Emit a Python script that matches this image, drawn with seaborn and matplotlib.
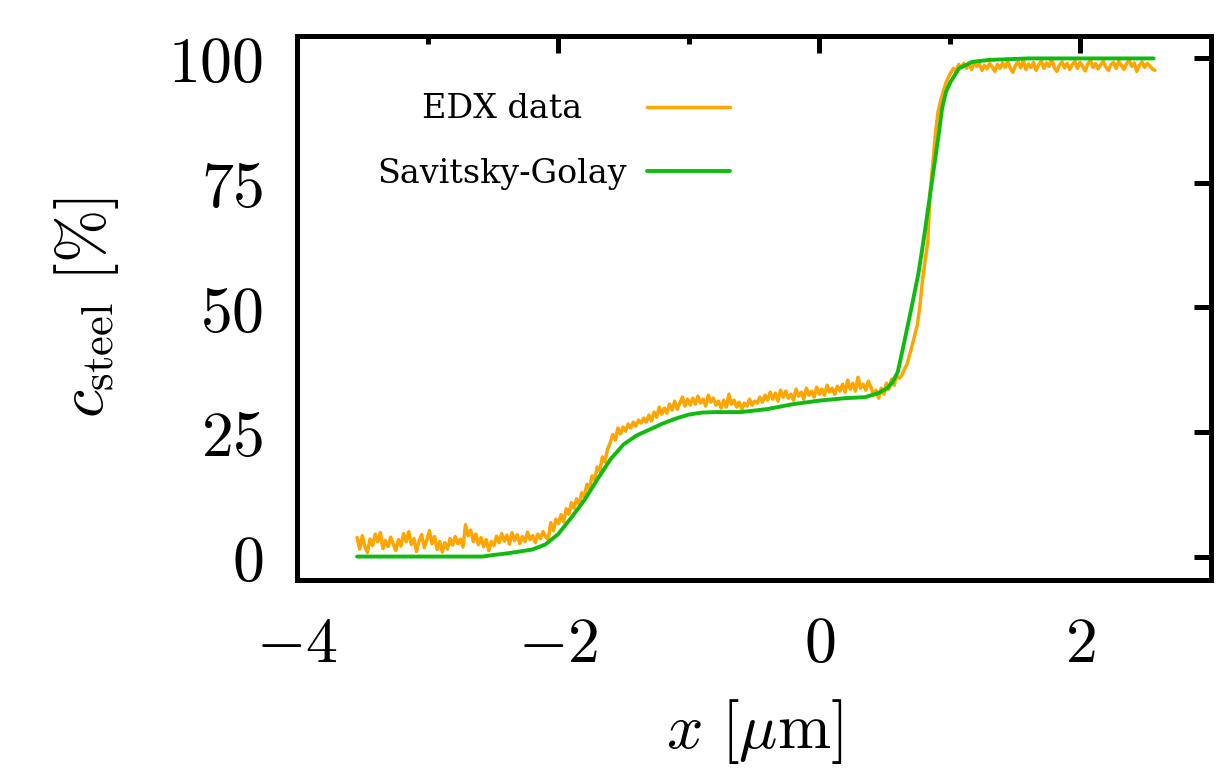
import numpy as np
import pandas as pd
import matplotlib
matplotlib.use("Agg")
import matplotlib.pyplot as plt
import seaborn as sns
from matplotlib.offsetbox import DrawingArea

# EDX line scan: steel concentration [%], evenly sampled from -3.54 to 2.57 um
edx_x_start, edx_x_end = -3.54, 2.57
edx_c = [
    3.8, 1.5, 4.2, 2.0, 0.8, 3.5, 2.2, 4.5, 3.0, 4.8,
    1.6, 3.2, 2.0, 3.9, 2.5, 1.2, 3.4, 2.1, 4.6, 3.0,
    5.0, 2.4, 3.6, 1.0, 3.1, 4.4, 1.8, 3.3, 5.2, 2.6,
    4.0, 1.4, 3.0, 0.9, 2.8, 1.5, 3.6, 2.3, 4.0, 2.6,
    3.5, 1.9, 6.4, 4.2, 5.3, 3.0, 4.5, 2.4, 3.8, 2.0,
    3.4, 1.2, 3.0, 2.2, 4.1, 2.8, 4.6, 3.1, 4.3, 2.5,
    4.8, 3.2, 4.4, 2.6, 4.0, 3.0, 4.9, 3.4, 4.2, 2.8,
    4.5, 3.6, 5.0, 4.0, 3.4, 6.8, 5.2, 7.5, 6.6, 8.4,
    7.0, 9.6, 8.5, 10.8, 9.7, 11.6, 10.4, 12.8, 12.0, 14.5,
    13.6, 16.2, 15.4, 18.0, 17.2, 20.0, 19.0, 21.6, 22.8, 24.5,
    23.4, 25.8, 24.6, 26.0, 25.2, 26.6, 25.8, 27.0, 26.2, 27.4,
    26.8, 27.8, 27.0, 28.4, 27.2, 29.0, 28.0, 30.0, 28.6, 29.8,
    28.8, 30.6, 29.4, 31.2, 29.6, 30.8, 32.0, 30.2, 31.6, 30.4,
    31.8, 30.6, 32.2, 30.8, 31.6, 30.2, 32.4, 31.0, 31.8, 30.4,
    31.2, 29.8, 31.4, 30.0, 32.6, 30.6, 31.4, 30.0, 31.0, 29.6,
    30.8, 30.2, 31.6, 30.4, 31.2, 30.8, 32.0, 31.0, 32.4, 31.4,
    33.0, 31.6, 32.8, 31.2, 33.4, 32.0, 33.2, 31.8, 32.6, 31.4,
    33.6, 32.2, 33.0, 31.6, 33.8, 32.4, 33.2, 32.0, 34.0, 32.6,
    33.6, 32.4, 34.4, 33.0, 33.8, 32.6, 34.2, 33.2, 34.6, 33.0,
    35.4, 33.6, 34.8, 33.2, 36.0, 33.8, 34.6, 33.4, 35.2, 34.0,
    32.4, 33.4, 31.8, 33.8, 32.6, 34.8, 33.6, 35.6, 34.4, 36.2,
    35.8, 36.4, 37.6, 38.6, 40.5, 42.5, 44.5, 46.5, 50.5, 55.5,
    59.5, 63.0, 73.5, 79.0, 85.0, 89.3, 91.5, 93.3, 95.0, 96.2,
    97.2, 98.0, 97.4, 98.8, 98.2, 99.0, 98.0, 98.8, 97.8, 99.2,
    98.4, 98.9, 97.6, 98.6, 97.9, 99.0, 98.3, 97.4, 98.8, 98.0,
    99.1, 98.2, 99.4, 98.0, 97.2, 98.6, 99.3, 98.1, 99.6, 97.8,
    98.9, 98.2, 99.2, 97.6, 98.7, 99.5, 98.0, 99.1, 98.4, 100.0,
    98.2, 97.4, 98.6, 99.3, 98.1, 99.0, 97.8, 98.8, 99.4, 98.0,
    99.2, 98.4, 97.5, 98.9, 99.6, 98.2, 99.0, 97.9, 98.7, 99.4,
    98.3, 97.6, 98.8, 99.2, 98.0, 99.5, 98.6, 97.8, 98.9, 99.7,
    98.4, 99.1, 97.4, 98.6, 99.3, 98.2, 99.0, 98.5, 97.9, 97.6,
]

# Savitzky-Golay smoothed profile
sg_x = [-3.54, -2.58, -2.50, -2.40, -2.30, -2.20, -2.10, -2.00, -1.90, -1.80,
        -1.70, -1.60, -1.50, -1.40, -1.30, -1.20, -1.10, -1.00, -0.90, -0.80,
        -0.60, -0.40, -0.20, 0.00, 0.20, 0.35, 0.45, 0.52, 0.56, 0.60,
        0.636, 0.67, 0.71, 0.76, 0.80, 0.85, 0.91, 0.94, 0.97,
        1.005, 1.07, 1.17, 1.30, 1.60, 2.56]
sg_c = [0.0, 0.0, 0.3, 0.6, 1.0, 1.4, 2.4, 4.5, 7.8, 11.3,
        15.5, 19.5, 22.5, 24.3, 25.5, 26.7, 27.7, 28.5, 28.9, 29.0,
        29.0, 29.6, 30.6, 31.3, 31.8, 32.0, 32.8, 33.8, 35.0, 37.0,
        41.3, 45.5, 50.5, 57.0, 63.8, 73.0, 84.0, 90.0, 93.3,
        95.3, 98.0, 99.3, 99.7, 100.0, 100.0]

x_major = [-4, -2, 0, 2]
x_minor = [-3, -1, 1, 3]
y_major = [0, 25, 50, 75, 100]

sns.set_theme(style="white")
plt.rcParams["mathtext.fontset"] = "cm"
plt.rcParams["font.family"] = ["DejaVu Serif"]
for key in ("text.color", "axes.labelcolor", "xtick.color", "ytick.color",
            "axes.edgecolor"):
    plt.rcParams[key] = "black"

fig = plt.figure(figsize=(12.31, 7.72), dpi=100)
ax = fig.add_axes([0.2413, 0.2481, 0.7425, 0.7059])

edx = pd.DataFrame({"x": np.linspace(edx_x_start, edx_x_end, len(edx_c)), "c": edx_c})
sg = pd.DataFrame({"x": sg_x, "c": sg_c})

sns.lineplot(data=edx, x="x", y="c", ax=ax, color="#ffa500", lw=2.5,
             label="EDX data", sort=False, estimator=None)
sns.lineplot(data=sg, x="x", y="c", ax=ax, color="#0fbb0f", lw=2.8,
             label="Savitsky-Golay", sort=False, estimator=None)

ax.set_xlim(-4, 3)
ax.set_ylim(-4.8, 104.6)
ax.set_xticks(x_major, labels=[f"${v}$" for v in x_major])
ax.set_xticks(x_minor, minor=True)
ax.set_yticks(y_major, labels=[f"${v}$" for v in y_major])

ax.tick_params(which="both", direction="in", top=True, right=True,
               width=3.6, color="black")
ax.tick_params(which="major", length=12, labelsize=46)
ax.tick_params(which="minor", length=6)
ax.tick_params(axis="x", which="major", pad=24)
ax.tick_params(axis="y", which="major", pad=24)

for s in ax.spines.values():
    s.set_linewidth(3.6)
    s.set_color("black")

ax.set_xlabel(r"$x\ [\mu\mathrm{m}]$", fontsize=46, labelpad=16)
ax.set_ylabel(r"$c_{\mathrm{steel}}\ [\%]$", fontsize=46, labelpad=34)

leg_fs = 24
leg_pad = 0.6
leg = ax.legend(loc="upper right", bbox_to_anchor=(0.474, 0.894),
                frameon=False, markerfirst=False, fontsize=leg_fs,
                handlelength=2.5, handletextpad=leg_pad, labelspacing=0.97,
                borderpad=0, borderaxespad=0)

# centre the legend texts on each other (keys stay right-aligned)
fig.canvas.draw()
renderer = fig.canvas.get_renderer()
widths = [t.get_window_extent(renderer).width for t in leg.texts]
px_to_pt = 72.0 / fig.dpi
rows = leg._legend_handle_box.get_children()[0].get_children()
for row, w in zip(rows, widths):
    extra = (max(widths) - w) / 2 * px_to_pt - leg_pad * leg_fs
    if extra > 0:
        kids = row.get_children()
        row._children = [kids[0], DrawingArea(extra, 1), kids[1]]

fig.savefig("out.png", dpi=100)
